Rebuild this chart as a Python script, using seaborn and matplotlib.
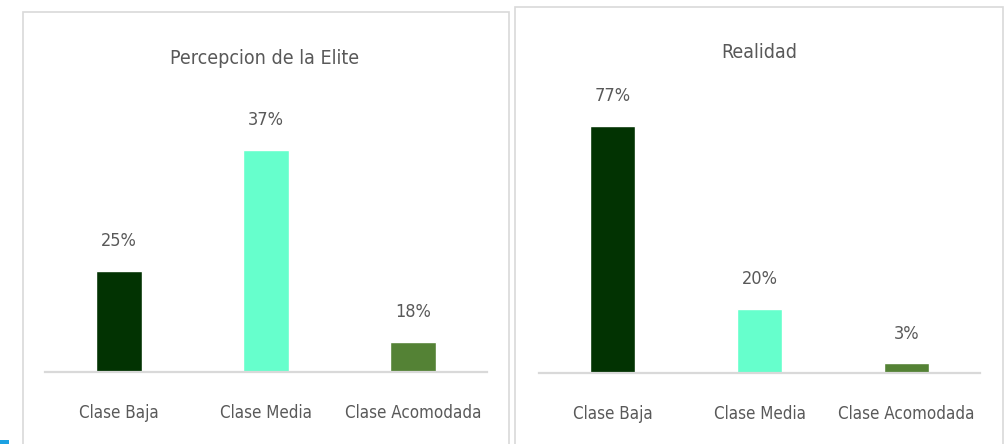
import matplotlib
matplotlib.use("Agg")
import matplotlib.pyplot as plt
import pandas as pd
import seaborn as sns
from matplotlib.patches import Rectangle

# datos
categorias = ["Clase Baja", "Clase Media", "Clase Acomodada"]
elite = [0.25, 0.37, 0.18]
realidad = [0.77, 0.20, 0.03]
colores = ["#023302", "#66FFCC", "#548235"]

sns.set_style("white")
plt.rcParams['font.family'] = ['DejaVu Sans']
plt.rcParams['font.stretch'] = 'condensed'
gris = "#595959"

W, H = 1007, 444
fig = plt.figure(figsize=(W / 100, H / 100), dpi=100)


def px(x0, y0, x1, y1):
    # caja en pixeles -> coords de figura
    return [x0 / W, 1 - y1 / H, (x1 - x0) / W, (y1 - y0) / H]


# marcos de cada grafico
for x0, y0, x1 in [(23, 12, 509), (515, 7, 1003)]:
    fig.patches.append(Rectangle((x0 / W, -0.05), (x1 - x0) / W, 1.05 - y0 / H,
                                 transform=fig.transFigure, fill=False,
                                 edgecolor="#d9d9d9", linewidth=1.2))
fig.patches.append(Rectangle((0, 0), 9 / W, 4 / H, transform=fig.transFigure,
                             color="#1BA1E2", linewidth=0))

paneles = [
    ("Percepcion de la Elite", elite, px(45, 120, 487, 372), (0.15, 0.40), (265, 59)),
    ("Realidad", realidad, px(539, 84, 980, 373), (0.0, 0.90), (759, 53)),
]

for titulo, valores, pos, lim, tpos in paneles:
    ax = fig.add_axes(pos)
    df = pd.DataFrame({"cat": categorias, "val": valores})
    sns.barplot(data=df, x="cat", y="val", hue="cat", palette=colores,
                width=0.31, legend=False, ax=ax, saturation=1)
    ax.set_xlim(-0.5, 2.5)
    ax.set_ylim(*lim)
    for cont in ax.containers:
        ax.bar_label(cont, labels=[f"{v:.0%}" for v in cont.datavalues],
                     padding=15, fontsize=13, color=gris)
    ax.set_xlabel("")
    ax.set_ylabel("")
    ax.set_yticks([])
    ax.tick_params(axis="x", length=0, pad=23, labelsize=12.2, labelcolor=gris)
    for s in ["top", "left", "right"]:
        ax.spines[s].set_visible(False)
    ax.spines["bottom"].set_color("#d9d9d9")
    ax.spines["bottom"].set_linewidth(1.6)
    ax.patch.set_alpha(0)
    fig.text(tpos[0] / W, 1 - tpos[1] / H, titulo, ha="center", va="center",
             fontsize=14, color=gris)

fig.savefig("out.png", dpi=100)
